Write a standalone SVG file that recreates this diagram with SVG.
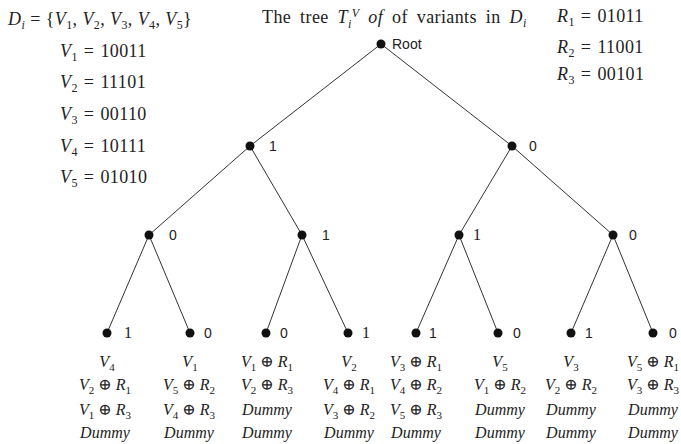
<svg xmlns="http://www.w3.org/2000/svg" width="681" height="444" viewBox="0 0 681 444">
<style>
.m{font-family:"Liberation Serif","DejaVu Serif",serif;font-size:16px;fill:#222}
.h{font-size:18px;letter-spacing:0.4px}
.i{font-style:italic}
.s{font-size:11px}
.hs{font-size:12px}
.lb{font-family:"Liberation Sans",Arial,sans-serif;font-size:14px;fill:#222}
.ls{font-family:"Liberation Serif",serif;font-size:16px;fill:#222}
.e{stroke:#333;stroke-width:1;fill:none}
.d{fill:#111}
.c{text-anchor:middle}
</style>
<rect width="681" height="444" fill="#fff"/>
<g id="header">
<text class="m h" x="8" y="25"><tspan class="i">D</tspan><tspan class="hs i" dy="4">i</tspan><tspan dy="-4" dx="5">=</tspan><tspan dx="5">{</tspan><tspan class="i">V</tspan><tspan class="hs" dy="4">1</tspan><tspan dy="-4">, </tspan><tspan class="i">V</tspan><tspan class="hs" dy="4">2</tspan><tspan dy="-4">, </tspan><tspan class="i">V</tspan><tspan class="hs" dy="4">3</tspan><tspan dy="-4">, </tspan><tspan class="i">V</tspan><tspan class="hs" dy="4">4</tspan><tspan dy="-4">, </tspan><tspan class="i">V</tspan><tspan class="hs" dy="4">5</tspan><tspan dy="-4">}</tspan></text>
<text class="m h" x="60" y="57"><tspan class="i">V</tspan><tspan class="hs" dy="4">1</tspan><tspan dy="-4" dx="6">=</tspan><tspan dx="6">10011</tspan></text>
<text class="m h" x="60" y="88"><tspan class="i">V</tspan><tspan class="hs" dy="4">2</tspan><tspan dy="-4" dx="6">=</tspan><tspan dx="6">11101</tspan></text>
<text class="m h" x="60" y="120"><tspan class="i">V</tspan><tspan class="hs" dy="4">3</tspan><tspan dy="-4" dx="6">=</tspan><tspan dx="6">00110</tspan></text>
<text class="m h" x="60" y="152"><tspan class="i">V</tspan><tspan class="hs" dy="4">4</tspan><tspan dy="-4" dx="6">=</tspan><tspan dx="6">10111</tspan></text>
<text class="m h" x="60" y="183"><tspan class="i">V</tspan><tspan class="hs" dy="4">5</tspan><tspan dy="-4" dx="6">=</tspan><tspan dx="6">01010</tspan></text>
<text class="m h" x="262" y="23" style="word-spacing:4px">The tree <tspan class="i">T</tspan><tspan class="hs i" dy="5">i</tspan><tspan class="hs i" dy="-11">V</tspan><tspan class="i" dy="6"> of</tspan> of variants in <tspan class="i">D</tspan><tspan class="hs i" dy="4">i</tspan></text>
<text class="m h" x="557" y="22"><tspan class="i">R</tspan><tspan class="hs" dy="4">1</tspan><tspan dy="-4" dx="6">=</tspan><tspan dx="6">01011</tspan></text>
<text class="m h" x="557" y="53"><tspan class="i">R</tspan><tspan class="hs" dy="4">2</tspan><tspan dy="-4" dx="6">=</tspan><tspan dx="6">11001</tspan></text>
<text class="m h" x="557" y="80"><tspan class="i">R</tspan><tspan class="hs" dy="4">3</tspan><tspan dy="-4" dx="6">=</tspan><tspan dx="6">00101</tspan></text>
</g>
<g id="connectors">
<line class="e" x1="381" y1="44" x2="250" y2="146"/>
<line class="e" x1="381" y1="44" x2="512" y2="146"/>
<line class="e" x1="250" y1="146" x2="149" y2="235"/>
<line class="e" x1="250" y1="146" x2="302" y2="235"/>
<line class="e" x1="512" y1="146" x2="459" y2="235"/>
<line class="e" x1="512" y1="146" x2="613" y2="235"/>
<line class="e" x1="149" y1="235" x2="107" y2="333"/>
<line class="e" x1="149" y1="235" x2="190" y2="333"/>
<line class="e" x1="302" y1="235" x2="266" y2="333"/>
<line class="e" x1="302" y1="235" x2="348" y2="333"/>
<line class="e" x1="459" y1="235" x2="416" y2="333"/>
<line class="e" x1="459" y1="235" x2="498" y2="333"/>
<line class="e" x1="613" y1="235" x2="571" y2="333"/>
<line class="e" x1="613" y1="235" x2="653" y2="333"/>
</g>
<g id="root"><circle class="d" cx="381" cy="44" r="4.5"/><text class="lb" x="392" y="49">Root</text></g>
<g id="n1"><circle class="d" cx="250" cy="146" r="4.5"/><text class="lb" x="269" y="151">1</text></g>
<g id="n0"><circle class="d" cx="512" cy="146" r="4.5"/><text class="lb" x="529" y="151">0</text></g>
<g id="n10"><circle class="d" cx="149" cy="235" r="4.5"/><text class="lb" x="169" y="240">0</text></g>
<g id="n11"><circle class="d" cx="302" cy="235" r="4.5"/><text class="lb" x="322" y="240">1</text></g>
<g id="n01"><circle class="d" cx="459" cy="235" r="4.5"/><text class="ls" x="473" y="240">1</text></g>
<g id="n00"><circle class="d" cx="613" cy="235" r="4.5"/><text class="lb" x="629" y="240">0</text></g>
<g id="leaf101">
<circle class="d" cx="107" cy="333" r="4.5"/><text class="ls" x="124" y="338">1</text>
<text class="m c" x="107" y="367"><tspan class="i">V</tspan><tspan class="s" dy="4">4</tspan></text>
<text class="m c" x="105" y="390"><tspan class="i">V</tspan><tspan class="s" dy="4">2</tspan><tspan dy="-4"> ⊕ </tspan><tspan class="i">R</tspan><tspan class="s" dy="4">1</tspan></text>
<text class="m c" x="105" y="415"><tspan class="i">V</tspan><tspan class="s" dy="4">1</tspan><tspan dy="-4"> ⊕ </tspan><tspan class="i">R</tspan><tspan class="s" dy="4">3</tspan></text>
<text class="m c i" x="105" y="438">Dummy</text>
</g>
<g id="leaf100">
<circle class="d" cx="190" cy="333" r="4.5"/><text class="lb" x="204" y="338">0</text>
<text class="m c" x="190" y="367"><tspan class="i">V</tspan><tspan class="s" dy="4">1</tspan></text>
<text class="m c" x="189" y="390"><tspan class="i">V</tspan><tspan class="s" dy="4">5</tspan><tspan dy="-4"> ⊕ </tspan><tspan class="i">R</tspan><tspan class="s" dy="4">2</tspan></text>
<text class="m c" x="189" y="415"><tspan class="i">V</tspan><tspan class="s" dy="4">4</tspan><tspan dy="-4"> ⊕ </tspan><tspan class="i">R</tspan><tspan class="s" dy="4">3</tspan></text>
<text class="m c i" x="189" y="438">Dummy</text>
</g>
<g id="leaf110">
<circle class="d" cx="266" cy="333" r="4.5"/><text class="lb" x="280" y="338">0</text>
<text class="m c" x="267" y="367"><tspan class="i">V</tspan><tspan class="s" dy="4">1</tspan><tspan dy="-4"> ⊕ </tspan><tspan class="i">R</tspan><tspan class="s" dy="4">1</tspan></text>
<text class="m c" x="267" y="390"><tspan class="i">V</tspan><tspan class="s" dy="4">2</tspan><tspan dy="-4"> ⊕ </tspan><tspan class="i">R</tspan><tspan class="s" dy="4">3</tspan></text>
<text class="m c i" x="267" y="415">Dummy</text>
<text class="m c i" x="267" y="438">Dummy</text>
</g>
<g id="leaf111">
<circle class="d" cx="348" cy="333" r="4.5"/><text class="ls" x="362" y="338">1</text>
<text class="m c" x="349" y="367"><tspan class="i">V</tspan><tspan class="s" dy="4">2</tspan></text>
<text class="m c" x="349" y="390"><tspan class="i">V</tspan><tspan class="s" dy="4">4</tspan><tspan dy="-4"> ⊕ </tspan><tspan class="i">R</tspan><tspan class="s" dy="4">1</tspan></text>
<text class="m c" x="349" y="415"><tspan class="i">V</tspan><tspan class="s" dy="4">3</tspan><tspan dy="-4"> ⊕ </tspan><tspan class="i">R</tspan><tspan class="s" dy="4">2</tspan></text>
<text class="m c i" x="349" y="438">Dummy</text>
</g>
<g id="leaf011">
<circle class="d" cx="416" cy="333" r="4.5"/><text class="lb" x="429" y="338">1</text>
<text class="m c" x="416" y="367"><tspan class="i">V</tspan><tspan class="s" dy="4">3</tspan><tspan dy="-4"> ⊕ </tspan><tspan class="i">R</tspan><tspan class="s" dy="4">1</tspan></text>
<text class="m c" x="416" y="390"><tspan class="i">V</tspan><tspan class="s" dy="4">4</tspan><tspan dy="-4"> ⊕ </tspan><tspan class="i">R</tspan><tspan class="s" dy="4">2</tspan></text>
<text class="m c" x="416" y="415"><tspan class="i">V</tspan><tspan class="s" dy="4">5</tspan><tspan dy="-4"> ⊕ </tspan><tspan class="i">R</tspan><tspan class="s" dy="4">3</tspan></text>
<text class="m c i" x="416" y="438">Dummy</text>
</g>
<g id="leaf010">
<circle class="d" cx="498" cy="333" r="4.5"/><text class="lb" x="513" y="338">0</text>
<text class="m c" x="500" y="367"><tspan class="i">V</tspan><tspan class="s" dy="4">5</tspan></text>
<text class="m c" x="500" y="390"><tspan class="i">V</tspan><tspan class="s" dy="4">1</tspan><tspan dy="-4"> ⊕ </tspan><tspan class="i">R</tspan><tspan class="s" dy="4">2</tspan></text>
<text class="m c i" x="500" y="415">Dummy</text>
<text class="m c i" x="500" y="438">Dummy</text>
</g>
<g id="leaf001">
<circle class="d" cx="571" cy="333" r="4.5"/><text class="lb" x="585" y="338">1</text>
<text class="m c" x="571" y="367"><tspan class="i">V</tspan><tspan class="s" dy="4">3</tspan></text>
<text class="m c" x="571" y="390"><tspan class="i">V</tspan><tspan class="s" dy="4">2</tspan><tspan dy="-4"> ⊕ </tspan><tspan class="i">R</tspan><tspan class="s" dy="4">2</tspan></text>
<text class="m c i" x="571" y="415">Dummy</text>
<text class="m c i" x="571" y="438">Dummy</text>
</g>
<g id="leaf000">
<circle class="d" cx="653" cy="333" r="4.5"/><text class="lb" x="669" y="338">0</text>
<text class="m c" x="653" y="367"><tspan class="i">V</tspan><tspan class="s" dy="4">5</tspan><tspan dy="-4"> ⊕ </tspan><tspan class="i">R</tspan><tspan class="s" dy="4">1</tspan></text>
<text class="m c" x="653" y="390"><tspan class="i">V</tspan><tspan class="s" dy="4">3</tspan><tspan dy="-4"> ⊕ </tspan><tspan class="i">R</tspan><tspan class="s" dy="4">3</tspan></text>
<text class="m c i" x="653" y="415">Dummy</text>
<text class="m c i" x="653" y="438">Dummy</text>
</g>
</svg>
